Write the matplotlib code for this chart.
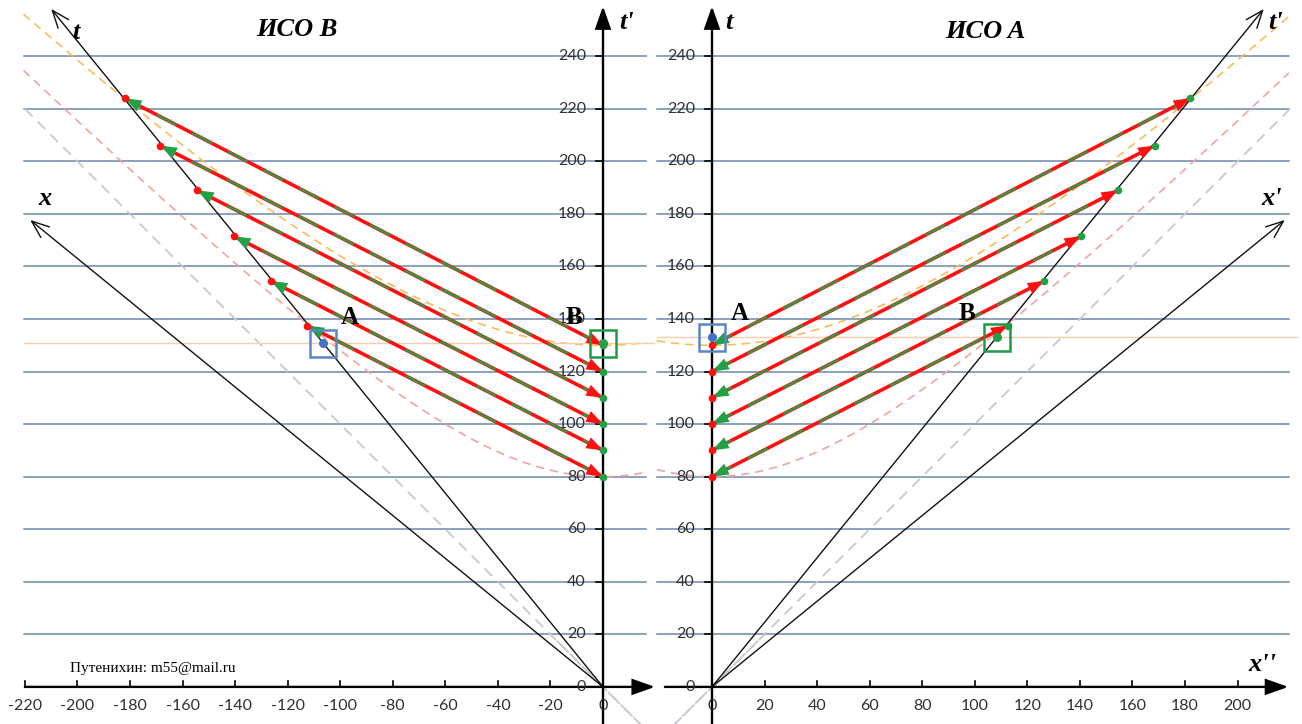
import numpy as np
import matplotlib.pyplot as plt
from matplotlib.patches import FancyArrowPatch, Rectangle

# proper times on the observer at rest (x = 0)
tau = [80, 90, 100, 110, 120, 130]
# matching events on the moving observer's worldline: |x| and t
ev_x = [112.5, 126.5, 140.5, 154.5, 168.5, 182.0]
ev_t = [137.5, 154.5, 171.5, 189.0, 206.0, 224.0]

# tips of the moving frame's axes (|x|, t)
t_axis_tip = (210, 258)
x_axis_tip = (218, 177.7)

grid_t = list(range(20, 260, 20))
ytick_vals = list(range(0, 260, 20))
xtick_left = list(range(-220, 1, 20))
xtick_right = list(range(0, 201, 20))

hyp_outer = 130
hyp_inner = 80

# marked moment (A and B squares) in each frame
mark_t = {'left': 130.7, 'right': 133.0}
mark_x = {'left': -106.5, 'right': 108.5}

RED = '#ff1010'
GREEN = '#22a045'
GRID = '#6c87ad'
TICK_FONT = 'Lato'
SERIF = 'Liberation Serif'

W, H, DPI = 1302, 724, 100
K = 2.628            # pixels per unit
Y0 = 686.9           # pixel row of t = 0
ORIGIN = {'left': 603.0, 'right': 712.0}

fig = plt.figure(figsize=(W / DPI, H / DPI), dpi=DPI)
fig.patch.set_facecolor('white')


def make_axes(side):
    ax = fig.add_axes([0, 0, 1, 1], facecolor='none')
    x0 = ORIGIN[side]
    ax.set_xlim(-x0 / K, (W - x0) / K)
    ax.set_ylim((Y0 - H) / K, Y0 / K)
    ax.axis('off')
    return ax


def arrow(ax, p0, p1, style, color, lw, ms, z):
    ax.add_patch(FancyArrowPatch(p0, p1, arrowstyle=style, color=color, lw=lw,
                                 mutation_scale=ms, shrinkA=0, shrinkB=0,
                                 zorder=z, joinstyle='miter'))


def head(ax, tip, frm, color, z=8):
    d = np.array(tip) - np.array(frm)
    d = d / np.hypot(*d)
    back = np.array(tip) - d * 6
    arrow(ax, back, tip, '-|>,head_length=0.75,head_width=0.27', color, 0.01, 16, z)


def panel(ax, side):
    s = -1 if side == 'left' else 1
    xa, xb = (-220.5, 16.5) if side == 'left' else (-21, 219.5)

    # horizontal grid
    for t in grid_t:
        ax.plot([xa, xb], [t, t], color=GRID, lw=1.1, zorder=1)

    # light cone and hyperbolas
    xs = np.linspace(xa, xb, 400)
    ax.plot(xs, np.sqrt(hyp_outer ** 2 + xs ** 2), color='#f8bd55', lw=1.2,
            dashes=(5, 3.5), zorder=2)
    ax.plot(xs, np.sqrt(hyp_inner ** 2 + xs ** 2), color='#f4a2a2', lw=1.2,
            dashes=(5, 3.5), zorder=2)
    ax.plot([s * 220, -s * 20], [220, -20], color='#c8c8d4', lw=1.3,
            dashes=(6, 4), zorder=2)
    ax.plot([-s * 20, s * 20], [-20, 20], color='#c8c8d4', lw=1.3,
            dashes=(6, 4), zorder=2)
    ax.plot([xa, xb + 3], [mark_t[side]] * 2, color='#f8cfa8', lw=1.0, zorder=2)

    # moving frame axes
    arrow(ax, (0, 0), (s * t_axis_tip[0], t_axis_tip[1]),
          '->,head_length=0.9,head_width=0.35', '#111111', 1.0, 14, 4)
    arrow(ax, (0, 0), (s * x_axis_tip[0], x_axis_tip[1]),
          '->,head_length=0.9,head_width=0.35', '#111111', 1.0, 14, 4)

    # own axes
    xl, xr = (-220, 19.8) if side == 'left' else (-17.9, 219.3)
    arrow(ax, (xl, 0), (xr, 0), '-|>,head_length=0.85,head_width=0.3',
          'black', 1.7, 16, 6)
    arrow(ax, (0, -15), (0, 259), '-|>,head_length=0.85,head_width=0.3',
          'black', 1.7, 16, 6)

    for t in ytick_vals:
        ax.plot([-2.7, 0], [t, t], color='black', lw=1.2, zorder=6)
        ax.text(-6.5, t, str(t), ha='right', va='center', fontsize=11.5,
                family=TICK_FONT, color='#303030', zorder=7)
    for x in (xtick_left if side == 'left' else xtick_right):
        ax.plot([x, x], [0, 2.2], color='black', lw=1.2, zorder=6)
        ax.text(x, -7.2, str(x), ha='center', va='center', fontsize=11.5,
                family=TICK_FONT, color='#303030', zorder=7)

    # signal lines between the two observers
    for tr, mx, mt in zip(tau, ev_x, ev_t):
        R = (0, tr)
        M = (s * mx, mt)
        ax.plot([R[0], M[0]], [R[1], M[1]], color=RED, lw=2.6, zorder=7,
                solid_capstyle='butt')
        ax.plot([R[0], M[0]], [R[1], M[1]], color=GREEN, lw=1.6, zorder=7,
                dashes=(10, 8))
        if side == 'left':
            head(ax, R, M, RED)
            head(ax, M, R, GREEN)
            ax.plot(*M, 'o', color=RED, ms=4.5, zorder=9)
            ax.plot(*R, 'o', color=GREEN, ms=4.5, zorder=9)
        else:
            head(ax, M, R, RED)
            head(ax, R, M, GREEN)
            ax.plot(*R, 'o', color=RED, ms=4.5, zorder=9)
            ax.plot(*M, 'o', color=GREEN, ms=4.5, zorder=9)

    # A and B at the marked moment
    tm = mark_t[side]
    a_x, b_x = (mark_x[side], 0) if side == 'left' else (0, mark_x[side])
    ax.plot(a_x, tm, 'o', color='#4472c4', ms=5.5, zorder=10)
    ax.plot(b_x, tm, 'o', color=GREEN, ms=5.5, zorder=10)
    for cx, col in ((a_x, '#5a85c6'), (b_x, '#1f9a48')):
        ax.add_patch(Rectangle((cx - 5, tm - 5), 10, 10, fill=False,
                               ec=col, lw=1.8, zorder=10))


axl = make_axes('left')
axr = make_axes('right')
panel(axl, 'left')
panel(axr, 'right')

lab = dict(family=SERIF, fontweight='bold', fontstyle='italic', fontsize=19,
           ha='center', va='center', zorder=12)
axl.text(-116.5, 250, 'ИСО B', **lab)
axl.text(-200.5, 249, 't', **lab)
axl.text(-212.5, 186, 'x', **lab)
axl.text(9, 253, "t'", **lab)
axr.text(104, 249.5, 'ИСО A', **lab)
axr.text(6.5, 253, 't', **lab)
axr.text(214.5, 253, "t'", **lab)
axr.text(213, 186, "x'", **lab)
axr.text(209.5, 8.5, "x''", **lab)

pt = dict(family=SERIF, fontweight='bold', fontsize=18, ha='center',
          va='center', zorder=12)
axl.text(-96.5, 140.5, 'A', **pt)
axl.text(-11, 140.5, 'B', **pt)
axr.text(10.5, 142, 'A', **pt)
axr.text(97, 142, 'B', **pt)

axl.text(-203, 7, 'Путенихин: m55@mail.ru', family=SERIF, fontsize=11,
         ha='left', va='center')

fig.savefig('out.png', dpi=DPI)
